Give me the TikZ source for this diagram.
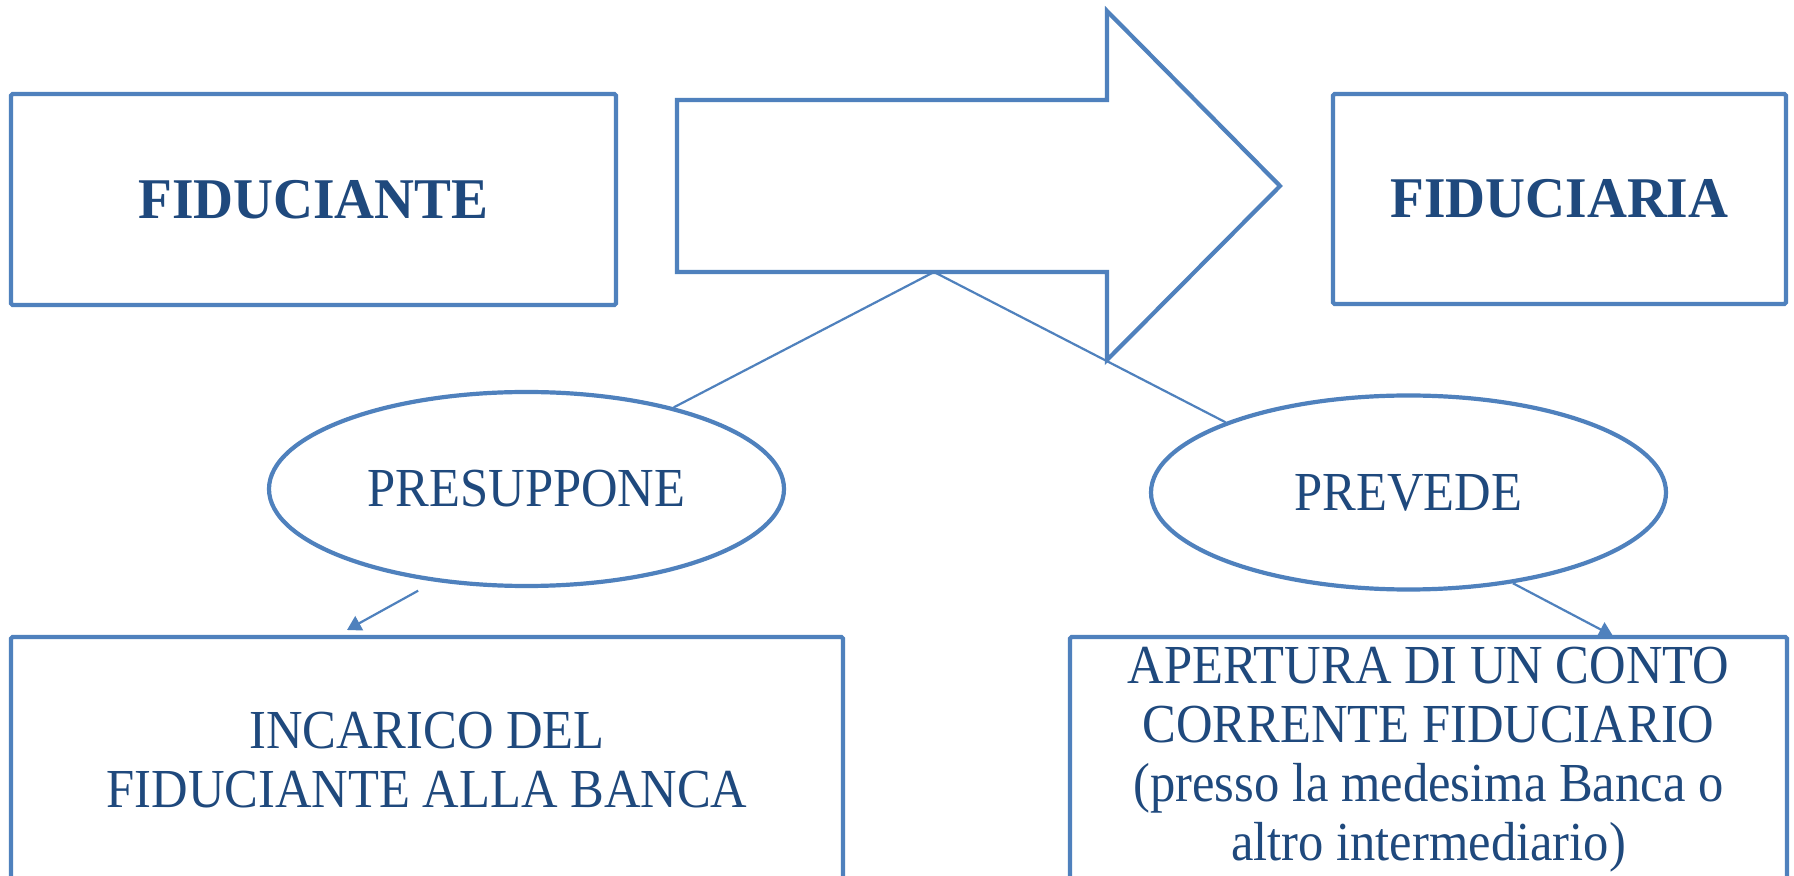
\documentclass[tikz,border=0pt]{standalone}
\usepackage{fontspec}
\setmainfont{Liberation Serif}
\newfontfamily\condfont[FakeStretch=0.92]{Liberation Serif}
\newfontfamily\bcondfont[FakeStretch=0.96]{Liberation Serif}
\usetikzlibrary{shapes.geometric,arrows.meta}
\definecolor{lineblue}{HTML}{4F81BD}
\definecolor{textblue}{HTML}{1F497D}
\begin{document}
\begin{tikzpicture}[x=0.5pt,y=-0.5pt,
  box/.style={draw=lineblue, line width=2.1pt, rounded corners=0.8pt, rectangle, inner sep=0pt, align=center, text=textblue},
  oval/.style={draw=lineblue, line width=2.1pt, ellipse, inner sep=0pt, text=textblue},
  txt/.style={font=\condfont\fontsize{27.5}{29.5}\selectfont},
  btxt/.style={font=\bcondfont\bfseries\fontsize{28.8}{31}\selectfont},
  link/.style={draw=lineblue, line width=1.1pt},
  arr/.style={link, -{Triangle[length=7pt,width=8pt]}}]
\clip (0,0) rectangle (1794,876);
\fill[white] (0,0) rectangle (1794,876);
% top boxes
\node[box,btxt,minimum width=302.5pt,minimum height=105.5pt] (fiduciante) at (313.5,199.5) {FIDUCIANTE};
\node[box,btxt,minimum width=226.5pt,minimum height=105pt] (fiduciaria) at (1559.5,199) {FIDUCIARIA};
% big arrow
\draw[draw=lineblue, line width=2.1pt, line join=miter]
  (677,100) -- (1107,100) -- (1107,11) -- (1280,186) -- (1107,360) -- (1107,272) -- (677,272) -- cycle;
\coordinate (apex) at (934,272);
% ellipses
\node[oval,txt,minimum width=257.5pt,minimum height=97pt] (presuppone) at (526.5,489) {PRESUPPONE};
\node[oval,txt,minimum width=257.5pt,minimum height=97pt] (prevede) at (1408.5,492.5) {PREVEDE};
% bottom boxes
\node[box,txt,minimum width=416pt,minimum height=123pt] (incarico) at (427,760) {INCARICO DEL\\FIDUCIANTE ALLA BANCA};
\node[box,txt,minimum width=358.5pt,minimum height=123pt] (apertura) at (1428.5,760) {APERTURA DI UN CONTO\\CORRENTE FIDUCIARIO\\(presso la medesima Banca o\\altro intermediario)};
% connectors
\draw[link] (apex) -- (presuppone.29);
\draw[link] (apex) -- (prevede.159);
\coordinate (tip1) at (347,630);
\coordinate (tip2) at (1613,636);
\draw[arr] ([shift={(-10,10)}]presuppone.223) -- (tip1);
\draw[arr] (prevede.319) -- (tip2);
\end{tikzpicture}
\end{document}
